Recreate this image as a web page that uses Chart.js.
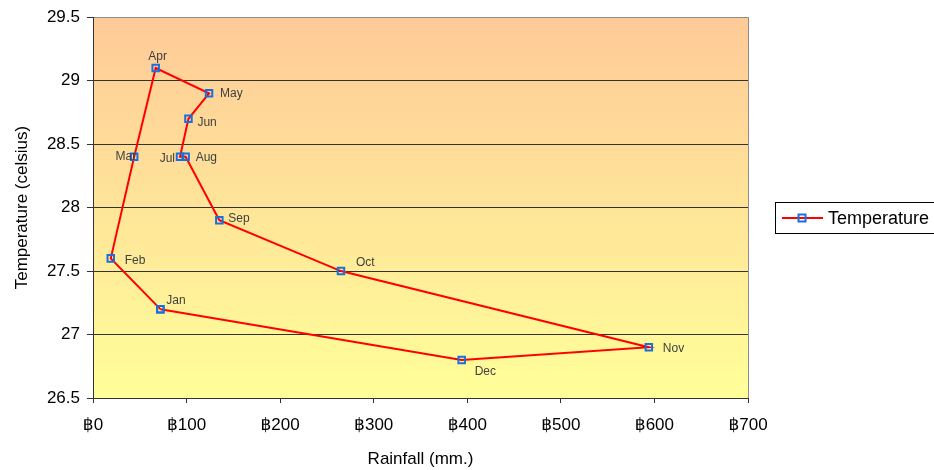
<!DOCTYPE html>
<html>
<head>
<meta charset="utf-8">
<script src="https://cdn.jsdelivr.net/npm/chart.js@4/dist/chart.umd.min.js"></script>
<style>
  html, body { margin: 0; padding: 0; background: #ffffff; }
  #wrap { width: 934px; height: 470px; }
</style>
</head>
<body>
<div id="wrap"><canvas id="c" width="934" height="470"></canvas></div>
<script>
// ---- Data ----
const months = ['Jan','Feb','Mar','Apr','May','Jun','Jul','Aug','Sep','Oct','Nov','Dec'];
const rainfall = [72, 19, 44, 67, 124, 102, 93, 99, 135, 265, 594, 394];
const temperature = [27.2, 27.6, 28.4, 29.1, 28.9, 28.7, 28.4, 28.4, 27.9, 27.5, 26.9, 26.8];
const xTicks = [0, 100, 200, 300, 400, 500, 600, 700];
const yTicks = [26.5, 27, 27.5, 28, 28.5, 29, 29.5];
const seriesName = 'Temperature';
const xTitle = 'Rainfall (mm.)';
const yTitle = 'Temperature (celsius)';
const currency = '\u0E3F';

const FONT = '"Liberation Sans", Arial, "DejaVu Sans", sans-serif';

// build points (closing the loop back to January)
const points = months.map((m, i) => ({ x: rainfall[i], y: temperature[i] }));
points.push({ x: rainfall[0], y: temperature[0] });

// label placement per month: [dx, dy, align]
const labelPlace = {
  Jan: [6, -8, 'left'], Feb: [14, 2, 'left'], Mar: [2, 0, 'right'], Apr: [2, -11, 'center'],
  May: [11, 0, 'left'], Jun: [9, 4, 'left'], Jul: [-5, 2, 'right'], Aug: [10, 1, 'left'],
  Sep: [9, -2, 'left'], Oct: [15, -8, 'left'], Nov: [14, 1, 'left'], Dec: [13, 12, 'left']
};

const bgPlugin = {
  id: 'bg',
  beforeDraw(chart) {
    const { ctx, chartArea: a } = chart;
    const g = ctx.createLinearGradient(0, a.top, 0, a.bottom);
    g.addColorStop(0, '#FECA98');
    g.addColorStop(1, '#FFFF99');
    ctx.save();
    ctx.fillStyle = g;
    ctx.fillRect(a.left, a.top, a.right - a.left, a.bottom - a.top);
    ctx.restore();
  },
  afterDraw(chart) {
    const { ctx, chartArea: a } = chart;
    ctx.save();
    // right border
    ctx.strokeStyle = '#8c8c8c';
    ctx.lineWidth = 1;
    ctx.beginPath();
    ctx.moveTo(Math.round(a.right) + 0.5, a.top);
    ctx.lineTo(Math.round(a.right) + 0.5, a.bottom);
    ctx.stroke();
    // legend
    const lx = 775.5, ly = 202.5, lw = 170, lh = 31;
    ctx.fillStyle = '#ffffff';
    ctx.fillRect(lx, ly, lw, lh);
    ctx.strokeStyle = '#000000';
    ctx.lineWidth = 1;
    ctx.strokeRect(lx, ly, lw, lh);
    const cy = 218;
    ctx.strokeStyle = '#FF0000';
    ctx.lineWidth = 2;
    ctx.beginPath();
    ctx.moveTo(782, cy);
    ctx.lineTo(823, cy);
    ctx.stroke();
    ctx.strokeStyle = '#1870E0';
    ctx.lineWidth = 2;
    ctx.strokeRect(798.5, cy - 3.5, 7, 7);
    ctx.fillStyle = '#000000';
    ctx.font = '18px ' + FONT;
    ctx.textAlign = 'left';
    ctx.textBaseline = 'middle';
    ctx.fillText(chart.data.datasets[0].label, 828, cy + 1);
    ctx.restore();
  }
};

const labelPlugin = {
  id: 'monthLabels',
  afterDatasetsDraw(chart) {
    const { ctx } = chart;
    const meta = chart.getDatasetMeta(0);
    ctx.save();
    ctx.font = '12px ' + FONT;
    ctx.fillStyle = '#404040';
    ctx.textBaseline = 'middle';
    months.forEach((m, i) => {
      const el = meta.data[i];
      const p = labelPlace[m];
      ctx.textAlign = p[2];
      ctx.fillText(m, el.x + p[0], el.y + p[1]);
    });
    ctx.restore();
  }
};

new Chart(document.getElementById('c'), {
  type: 'line',
  data: {
    datasets: [{
      label: seriesName,
      data: points,
      borderColor: '#FF0000',
      borderWidth: 2,
      tension: 0,
      fill: false,
      pointStyle: 'rect',
      pointRadius: 4.6,
      pointHoverRadius: 4.6,
      pointBorderColor: '#1870E0',
      pointBorderWidth: 2,
      pointBackgroundColor: 'rgba(0,0,0,0)'
    }]
  },
  options: {
    responsive: false,
    animation: false,
    events: [],
    layout: { padding: { top: 17, right: 186, bottom: 0, left: 0 } },
    plugins: { legend: { display: false }, tooltip: { enabled: false } },
    scales: {
      x: {
        type: 'linear',
        min: xTicks[0], max: xTicks[xTicks.length - 1],
        afterBuildTicks(scale) { scale.ticks = xTicks.map(v => ({ value: v })); },
        afterFit(scale) { scale.height = 72; },
        ticks: {
          callback: v => currency + v,
          color: '#000000',
          font: { family: FONT, size: 17 },
          padding: 12,
          maxRotation: 0
        },
        grid: { drawOnChartArea: false, color: '#333333', tickLength: 5 },
        border: { color: '#333333', width: 1 },
        title: {
          display: true, text: xTitle, color: '#000000',
          font: { family: FONT, size: 17 },
          padding: { top: 0, bottom: 0 }
        }
      },
      y: {
        type: 'linear',
        min: yTicks[0], max: yTicks[yTicks.length - 1],
        afterBuildTicks(scale) { scale.ticks = yTicks.map(v => ({ value: v })); },
        afterFit(scale) { scale.width = 93; },
        ticks: {
          callback: v => String(v),
          color: '#000000',
          font: { family: FONT, size: 17 },
          padding: 7
        },
        grid: {
          color: ctx => (ctx.tick && ctx.tick.value === 29.5) ? '#8c8c8c' : '#333333',
          tickColor: '#333333',
          tickLength: 6,
          lineWidth: 1
        },
        border: { color: '#333333', width: 1 },
        title: {
          display: true, text: yTitle, color: '#000000',
          font: { family: FONT, size: 17 },
          padding: { top: 12, bottom: 0 }
        }
      }
    }
  },
  plugins: [bgPlugin, labelPlugin]
});
</script>
</body>
</html>
